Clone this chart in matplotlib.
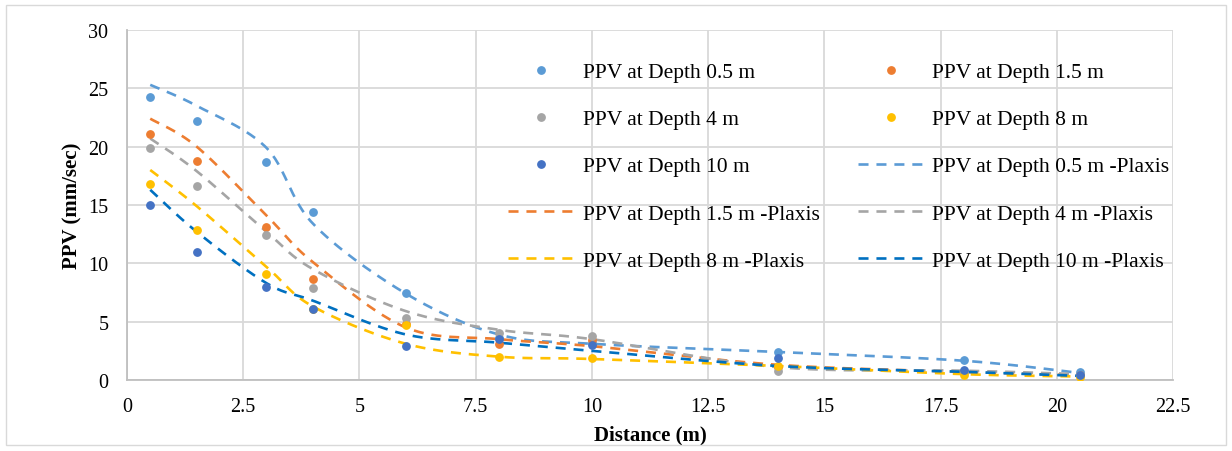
import numpy as np
import matplotlib
matplotlib.use("Agg")
import matplotlib.pyplot as plt
from matplotlib.patches import Rectangle

plt.rcParams['font.family'] = ['Liberation Serif', 'DejaVu Serif']

distance = [0.5, 1.5, 3, 4, 6, 8, 10, 14, 18, 20.5]

ppv_05 = [24.3, 22.2, 18.7, 14.4, 7.5, 3.6, 3.2, 2.4, 1.7, 0.7]
ppv_15 = [21.1, 18.8, 13.1, 8.7, 4.8, 3.1, 3.4, 1.1, 0.7, 0.4]
ppv_4 = [19.9, 16.6, 12.4, 7.9, 5.3, 4.0, 3.8, 0.8, 0.7, 0.4]
ppv_8 = [16.8, 12.9, 9.1, 6.1, 4.7, 2.0, 1.9, 1.2, 0.45, 0.3]
ppv_10 = [15.0, 11.0, 8.0, 6.1, 2.9, 3.5, 3.0, 1.9, 0.9, 0.4]

plaxis_05 = [25.3, 23.5, 19.9, 13.4, 7.4, 3.9, 3.1, 2.4, 1.65, 0.6]
plaxis_15 = [22.4, 20.0, 14.1, 10.1, 4.5, 3.5, 2.9, 1.3, 0.7, 0.4]
plaxis_4 = [20.7, 17.9, 12.7, 9.5, 5.9, 4.3, 3.5, 1.1, 0.8, 0.5]
plaxis_8 = [18.0, 14.9, 9.7, 6.3, 3.1, 2.0, 1.8, 1.2, 0.5, 0.3]
plaxis_10 = [16.3, 12.7, 8.3, 6.8, 3.9, 3.2, 2.5, 1.2, 0.7, 0.35]

labels_meas = ["PPV at Depth 0.5 m", "PPV at Depth 1.5 m", "PPV at Depth 4 m",
               "PPV at Depth 8 m", "PPV at Depth 10 m"]
labels_plx = ["PPV at Depth 0.5 m -Plaxis", "PPV at Depth 1.5 m -Plaxis",
              "PPV at Depth 4 m -Plaxis", "PPV at Depth 8 m -Plaxis",
              "PPV at Depth 10 m -Plaxis"]
colors_meas = ["#5B9BD5", "#ED7D31", "#A5A5A5", "#FFC000", "#4472C4"]
colors_plx = ["#5B9BD5", "#ED7D31", "#A5A5A5", "#FFC000", "#0070C0"]

XMAX, YMAX = 22.5, 30


def smooth(xs, ys, n=30, sx=1046 / XMAX, sy=350 / YMAX):
    """Catmull-Rom smoothing (Excel-like) computed in screen-proportional space."""
    P = np.column_stack([np.asarray(xs, float) * sx, np.asarray(ys, float) * sy])
    P = np.vstack([P[0], P, P[-1]])
    out = []
    for i in range(1, len(P) - 2):
        p0, p1, p2, p3 = P[i - 1], P[i], P[i + 1], P[i + 2]
        c1 = p1 + (p2 - p0) / 6.0
        c2 = p2 - (p3 - p1) / 6.0
        t = np.linspace(0, 1, n)[:, None]
        seg = ((1 - t) ** 3) * p1 + 3 * ((1 - t) ** 2) * t * c1 + 3 * (1 - t) * t ** 2 * c2 + t ** 3 * p2
        out.append(seg if i == 1 else seg[1:])
    out = np.vstack(out)
    return out[:, 0] / sx, out[:, 1] / sy


fig = plt.figure(figsize=(12.32, 4.52), dpi=100)
ax = fig.add_axes([127 / 1232, 1 - 381 / 452, (1173 - 127) / 1232, 350 / 452])

fig.patches.append(Rectangle((6 / 1232, 6 / 452), 1220 / 1232, 440 / 452,
                             transform=fig.transFigure, fill=False,
                             edgecolor="#D9D9D9", linewidth=1.0))

meas = [ppv_05, ppv_15, ppv_4, ppv_8, ppv_10]
plx = [plaxis_05, plaxis_15, plaxis_4, plaxis_8, plaxis_10]

h_meas, h_plx = [], []
for vals, c, lab in zip(meas, colors_meas, labels_meas):
    h, = ax.plot(distance, vals, linestyle="none", marker="o", markersize=5.3,
                 color=c, label=lab, zorder=3)
    h_meas.append(h)
for vals, c, lab in zip(plx, colors_plx, labels_plx):
    sx_, sy_ = smooth(distance, vals)
    h, = ax.plot(sx_, sy_, linestyle=(0, (3.8, 3.0)), linewidth=1.9, color=c,
                 label=lab, zorder=2)
    h_plx.append(h)

ax.set_xlim(0, XMAX)
ax.set_ylim(0, YMAX)
ax.set_xticks(np.arange(0, 22.6, 2.5))
ax.set_xticklabels(["0", "2.5", "5", "7.5", "10", "12.5", "15", "17.5", "20", "22.5"])
ax.set_yticks(np.arange(0, 31, 5))
ax.grid(True, color="#D9D9D9", linewidth=1.3)
ax.set_axisbelow(True)
for s in ["top", "right"]:
    ax.spines[s].set_visible(False)
for s in ["left", "bottom"]:
    ax.spines[s].set_color("#BFBFBF")
    ax.spines[s].set_linewidth(1.3)
ax.tick_params(length=0, labelsize=14.5, colors="black")
ax.tick_params(axis="x", pad=12)
ax.tick_params(axis="y", pad=13.5)
ax.set_xlabel("Distance (m)", fontsize=15, fontweight="bold", labelpad=6.5)
ax.set_ylabel("PPV (mm/sec)", fontsize=15, fontweight="bold", labelpad=4)

# Excel legend is row-major with 2 columns -> reorder for matplotlib column-major
order_all = h_meas + h_plx
col1 = order_all[0::2]
col2 = order_all[1::2]
handles = col1 + col2
leg = ax.legend(handles=handles, labels=[h.get_label() for h in handles],
                ncol=2, loc="upper left", bbox_to_anchor=(508 / 1232, 1 - 63 / 452),
                bbox_transform=fig.transFigure, frameon=False, fontsize=15.5,
                handlelength=3.1, handletextpad=0.37, labelspacing=1.26,
                columnspacing=1.77, borderaxespad=0, borderpad=0)

fig.savefig("out.png", dpi=100)
